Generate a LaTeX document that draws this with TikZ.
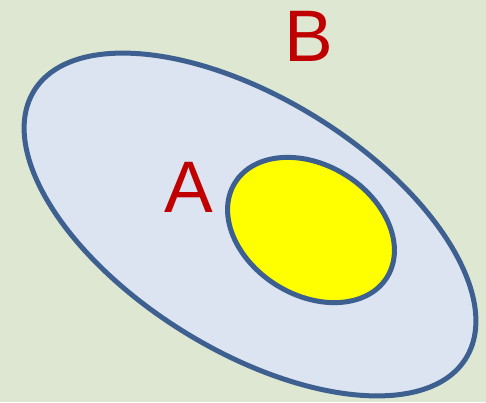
\documentclass[tikz,border=0pt]{standalone}
\usepackage{fontspec}
\setmainfont{Liberation Sans}
\usetikzlibrary{shapes.geometric}
\definecolor{bgc}{RGB}{222,231,210}
\definecolor{setB}{RGB}{219,228,240}
\definecolor{setA}{RGB}{255,255,0}
\definecolor{edgec}{HTML}{3D6090}
\definecolor{lbl}{HTML}{C00000}
\tikzset{
  setshape/.style={ellipse, draw=edgec, line width=5pt, inner sep=0pt, rotate=-31.8},
  lettr/.style={text=lbl, inner sep=0pt, font=\fontsize{73}{73}\selectfont}
}
\begin{document}
\begin{tikzpicture}[x=1pt,y=-1pt]
\fill[bgc] (0,0) rectangle (486,402);
\useasboundingbox (0,0) rectangle (486,402);
\node[setshape, fill=setB, minimum width=508pt, minimum height=252pt] (setb) at (250,224.5) {};
\node[setshape, fill=setA, minimum width=179pt, minimum height=130pt] (seta) at (311,230) {};
\node[lettr] (labA) at (189,187) {A};
\node[lettr] (labB) at (309,36) {B};
\end{tikzpicture}
\end{document}
